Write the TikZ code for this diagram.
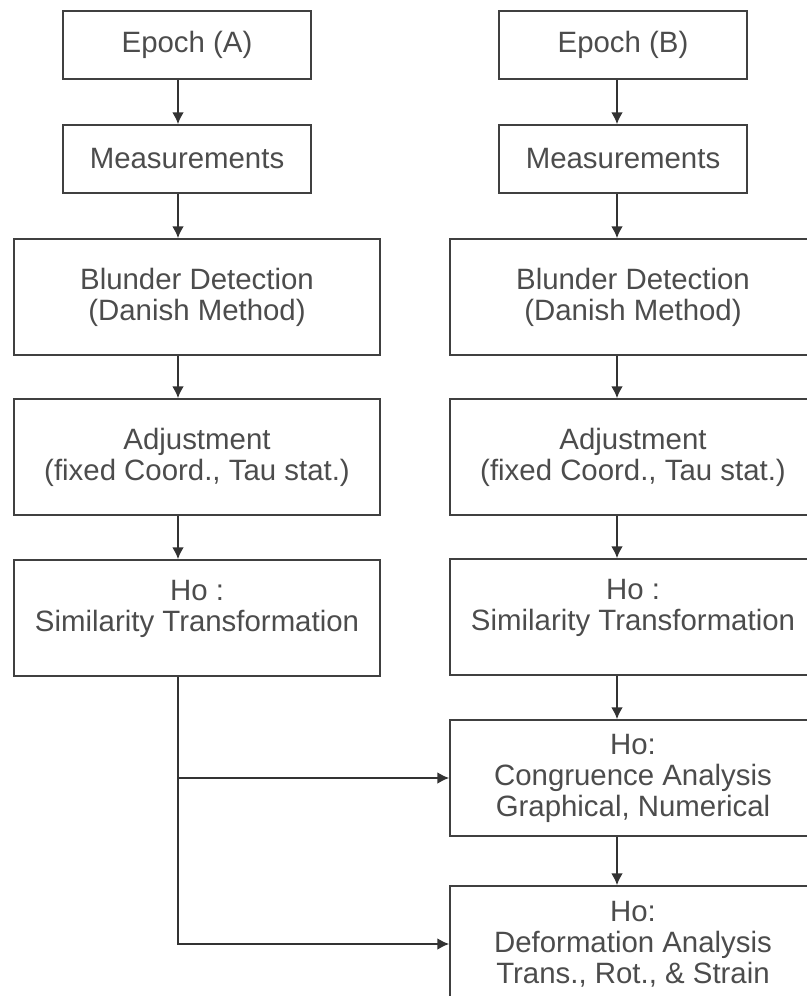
\documentclass[tikz,border=0pt]{standalone}
\usepackage{fontspec}
\setmainfont{Liberation Sans}
\usetikzlibrary{arrows.meta,positioning}

\begin{document}
\begin{tikzpicture}[
					x=0.5pt, y=-0.5pt,
					flow box/.style={draw=black!75, line width=0.75pt, rectangle, align=center, inner sep=0pt,
						text=black!70, font=\fontsize{14.7}{15.5}\selectfont},
					small box/.style={flow box, minimum width=124pt, minimum height=34pt},
					big box/.style={flow box, minimum width=183pt, minimum height=58pt},
					raised text/.style={text depth=12pt},
					flow arrow/.style={draw=black!80, line width=1.1pt, -{Latex[length=6pt,width=6pt]}},
				]
					\useasboundingbox (0,0) rectangle (807,996);

					% epoch A
					\node[small box] (epA) at (187,45) {Epoch (A)};
					\node[small box] (measA) at (187,159) {Measurements};
					\node[big box] (blunA) at (197,297) {Blunder Detection\\(Danish Method)};
					\node[big box] (adjA) at (197,457) {Adjustment\\(fixed Coord., Tau stat.)};
					\node[big box, raised text] (simA) at (197,618) {Ho :\\Similarity Transformation};

					% epoch B
					\node[small box] (epB) at (623,45) {Epoch (B)};
					\node[small box] (measB) at (623,159) {Measurements};
					\node[big box] (blunB) at (633,297) {Blunder Detection\\(Danish Method)};
					\node[big box] (adjB) at (633,457) {Adjustment\\(fixed Coord., Tau stat.)};
					\node[big box, raised text] (simB) at (633,617) {Ho :\\Similarity Transformation};
					\node[big box] (congB) at (633,778) {Ho:\\Congruence Analysis\\Graphical, Numerical};
					\node[big box] (defB) at (633,944) {Ho:\\Deformation Analysis\\Trans., Rot., \& Strain};

					\coordinate (colA) at (178,0);
					\coordinate (colB) at (617,0);

					\foreach \a/\b in {epA/measA, measA/blunA, blunA/adjA, adjA/simA}
						\draw[flow arrow] (\a.south -| colA) -- (\b.north -| colA);
					\foreach \a/\b in {epB/measB, measB/blunB, blunB/adjB, adjB/simB, simB/congB, congB/defB}
						\draw[flow arrow] (\a.south -| colB) -- (\b.north -| colB);

					\draw[flow arrow] (simA.south -| colA) |- (defB.west);
					\draw[flow arrow] (colA |- congB.west) -- (congB.west);
				\end{tikzpicture}
\end{document}
